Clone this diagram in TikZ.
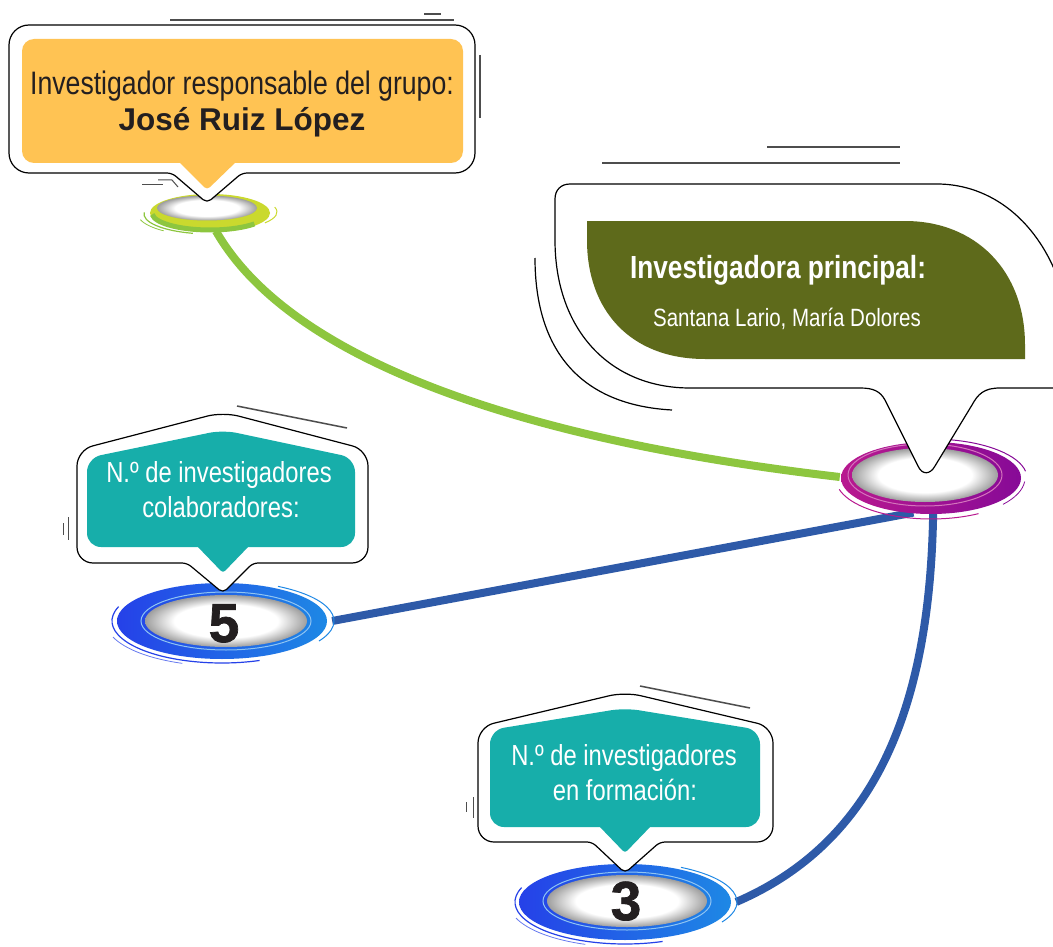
\documentclass[tikz,border=0pt]{standalone}
\usepackage{fontspec}
\setmainfont{Liberation Sans}
\newfontfamily\cond[FakeStretch=0.82]{Liberation Sans}
\newfontfamily\heavy[UprightFont={* Bold},FakeBold=1.3]{Liberation Sans}
\usetikzlibrary{shapes.geometric,backgrounds}
\definecolor{orangeF}{HTML}{FFC353}
\definecolor{oliveG}{HTML}{5E6A1B}
\definecolor{tealB}{HTML}{17AEAA}
\definecolor{lineG}{HTML}{8DC63F}
\definecolor{lineB}{HTML}{2E5AA8}
\definecolor{magA}{HTML}{B8198F}
\definecolor{magB}{HTML}{870A97}
\definecolor{blueA}{HTML}{2541E8}
\definecolor{blueB}{HTML}{1E88E5}
\definecolor{ygA}{HTML}{CAD92E}
\definecolor{txt}{HTML}{231F20}
\definecolor{deco}{HTML}{4D4D4D}
\pgfdeclareradialshading{hole}{\pgfpoint{0bp}{0bp}}{color(0bp)=(white); color(16bp)=(white); color(25bp)=(black!38); color(50bp)=(black!38)}
\begin{document}
\begin{tikzpicture}[x=1pt,y=-1pt,
  bub/.style={draw=black,line width=1.2pt,fill=white},
  decoline/.style={draw=deco,line width=1.5pt},
  thinline/.style={draw=deco,line width=1pt},
  conn/.style={line width=8pt},
  ringnode/.style={ellipse,inner sep=0pt},
  num/.style={font=\heavy\fontsize{55}{55}\selectfont,text=txt,inner sep=0pt,anchor=base},
  hdtxt/.style={font=\cond\fontsize{32.5}{38}\selectfont,text=txt,inner sep=0pt,anchor=base},
  nametxt/.style={font=\fontsize{31.5}{36}\selectfont\bfseries,text=txt,inner sep=0pt,anchor=base},
  wtxt/.style={font=\cond\fontsize{29}{35}\selectfont,text=white,inner sep=0pt,anchor=base},
  wbold/.style={font=\cond\fontsize{32}{36}\selectfont\bfseries,text=white,inner sep=0pt,anchor=base},
  wsmall/.style={font=\cond\fontsize{25}{30}\selectfont,text=white,inner sep=0pt,anchor=base}]
\useasboundingbox (0,0) rectangle (1053,947);
\clip (0,0) rectangle (1053,947);

% ring anchor nodes
\node[ringnode,minimum width=124pt,minimum height=38pt] (rg) at (209,212) {};
\node[ringnode,minimum width=180pt,minimum height=72pt] (rm) at (930,477) {};
\node[ringnode,minimum width=220pt,minimum height=80pt] (r5) at (222,621) {};
\node[ringnode,minimum width=222pt,minimum height=80pt] (r3) at (625,902) {};

% connectors
\begin{scope}[on background layer]
\draw[conn,lineG] (rg.-70) .. controls (290,360) and (520,440) .. (rm.west);
\draw[conn,lineB] (rm.-115) -- (r5.east);
\draw[conn,lineB] (rm.-85) .. controls (930,700) and (880,840) .. (r3.east);
\end{scope}

% green ring
\fill[ygA] (210,213) ellipse [x radius=60pt, y radius=19pt];
\draw[lineG,line width=5pt] ([shift={(185:58pt and 17pt)}]210,213) arc[start angle=185,end angle=320,x radius=58pt,y radius=17pt];
\draw[lineG,line width=1.2pt] ([shift={(175:66pt and 20pt)}]210,214) arc[start angle=175,end angle=255,x radius=66pt,y radius=20pt];
\draw[lineG,line width=0.8pt] ([shift={(195:72pt and 22pt)}]210,214) arc[start angle=195,end angle=230,x radius=72pt,y radius=22pt];
\draw[ygA,line width=1pt] ([shift={(15:67pt and 19pt)}]210,212) arc[start angle=15,end angle=-35,x radius=67pt,y radius=19pt];
\shade[shading=hole] (207,208) ellipse [x radius=50pt, y radius=12.5pt];

% magenta ring
\shade[left color=magA,middle color=magA,right color=magB] (931,478) ellipse [x radius=90pt, y radius=36pt];
\draw[magA,line width=1pt] ([shift={(195:95pt and 40pt)}]931,479) arc[start angle=195,end angle=300,x radius=95pt,y radius=40pt];
\draw[magB,line width=1pt] ([shift={(10:96pt and 39pt)}]931,478) arc[start angle=10,end angle=80,x radius=96pt,y radius=39pt];
\draw[magB,line width=0.8pt] ([shift={(-40:94pt and 41pt)}]931,478) arc[start angle=-40,end angle=-5,x radius=94pt,y radius=41pt];
\draw[magA!60,line width=1pt] (925,475) ellipse [x radius=77pt, y radius=31pt];
\shade[shading=hole] (925,475) ellipse [x radius=73pt, y radius=27pt];

% blue ring 5
\shade[left color=blueA,middle color=blueA,right color=blueB] (222,621) ellipse [x radius=105pt, y radius=38pt];
\draw[blueA,line width=1.2pt] ([shift={(160:110pt and 42pt)}]222,621) arc[start angle=160,end angle=290,x radius=110pt,y radius=42pt];
\draw[blueB,line width=1pt] ([shift={(-30:112pt and 40pt)}]222,621) arc[start angle=-30,end angle=60,x radius=112pt,y radius=40pt];
\draw[blueA!70,line width=0.8pt] ([shift={(200:116pt and 44pt)}]222,622) arc[start angle=200,end angle=250,x radius=116pt,y radius=44pt];
\draw[blueB!50,line width=1pt] (226,621) ellipse [x radius=85pt, y radius=29pt];
\shade[shading=hole] (226,621) ellipse [x radius=81pt, y radius=26pt];

% blue ring 3
\shade[left color=blueA,middle color=blueA,right color=blueB] (625,902) ellipse [x radius=106pt, y radius=38pt];
\draw[blueA,line width=1.2pt] ([shift={(160:110pt and 42pt)}]625,902) arc[start angle=160,end angle=290,x radius=110pt,y radius=42pt];
\draw[blueB,line width=1pt] ([shift={(-30:112pt and 40pt)}]625,902) arc[start angle=-30,end angle=60,x radius=112pt,y radius=40pt];
\draw[blueA!70,line width=0.8pt] ([shift={(200:116pt and 44pt)}]625,903) arc[start angle=200,end angle=250,x radius=116pt,y radius=44pt];
\draw[blueB!50,line width=1pt] (627,901) ellipse [x radius=84pt, y radius=29pt];
\shade[shading=hole] (627,901) ellipse [x radius=80pt, y radius=26pt];

% numbers
\node[num] (n5) at (224,642) {5};
\node[num] (n3) at (626,920) {3};

% top-left bubble
\draw[decoline] (170,20) -- (454,20);
\draw[decoline] (424,14) -- (441,14);
\draw[decoline] (480,55) -- (480,118);
\draw[thinline] (142,185) -- (163,185);
\draw[thinline] (158,180) -- (172,180) -- (178,187);
\draw[bub] (207,203) [rounded corners=5] -- (172,173) [rounded corners=20] -- (9,173) -- (9,25) -- (475,25) -- (475,173) [rounded corners=5] -- (242,173) -- cycle;
\fill[orangeF,rounded corners=12] (22,39) rectangle (463,163);
\fill[orangeF,rounded corners=4] (177,160) -- (238,160) -- (207,190) -- cycle;
\node[hdtxt] (t1a) at (242,95) {Investigador responsable del grupo:};
\node[nametxt] (t1b) at (242,131) {José Ruiz López};

% big right bubble
\draw[decoline] (767,147) -- (900,147);
\draw[decoline] (602,163) -- (900,163);
\draw[line width=1.2pt] (535,258) .. controls (535,350) and (580,405) .. (672,410);
\draw[bub] (555,240) -- (555,199) .. controls (555,190) and (561,184) .. (570,184) -- (937,184) .. controls (990,184) and (1040,220) .. (1062,290) -- (1062,388) -- (1000,388) .. controls (984,388) and (978,394) .. (972,405) -- (935,466) .. controls (930,475) and (922,475) .. (918,466) -- (885,400) .. controls (880,391) and (873,388) .. (860,388) -- (690,388) .. controls (610,388) and (555,330) .. (555,240) -- cycle;
\fill[oliveG] (587,221) -- (905,221) .. controls (975,221) and (1025,270) .. (1025,345) -- (1025,359) -- (705,359) .. controls (630,359) and (587,310) .. (587,240) -- cycle;
\node[wbold] (t2a) at (778,278) {Investigadora principal:};
\node[wsmall] (t2b) at (787,326) {Santana Lario, María Dolores};

% bubble 5
\draw[decoline] (237,406) -- (347,428);
\draw[thinline] (63,523) -- (63,535);
\draw[thinline] (68,517) -- (68,540);
\draw[bub] (223,593) [rounded corners=5] -- (187,563) [rounded corners=16] -- (77,563) -- (77,450) -- (223,412) -- (368,450) -- (368,563) [rounded corners=5] -- (253,563) -- cycle;
\fill[tealB,rounded corners=14] (87,458) -- (223,430) -- (355,458) -- (355,547) -- (87,547) -- cycle;
\fill[tealB,rounded corners=3] (196,545) -- (250,545) -- (223,573) -- cycle;
\node[wtxt] (t5a) at (219,482) {N.º de investigadores};
\node[wtxt] (t5b) at (221,517) {colaboradores:};

% bubble 3
\draw[decoline] (640,686) -- (750,708);
\draw[thinline] (466,802) -- (466,812);
\draw[thinline] (473,797) -- (473,818);
\draw[bub] (625,873) [rounded corners=5] -- (592,842) [rounded corners=16] -- (478,842) -- (478,727) -- (625,692) -- (773,727) -- (773,842) [rounded corners=5] -- (660,842) -- cycle;
\fill[tealB,rounded corners=14] (490,730) -- (625,708) -- (760,730) -- (760,827) -- (490,827) -- cycle;
\fill[tealB,rounded corners=3] (598,825) -- (652,825) -- (625,853) -- cycle;
\node[wtxt] (t3a) at (624,765) {N.º de investigadores};
\node[wtxt] (t3b) at (625,800) {en formación:};
\end{tikzpicture}
\end{document}
